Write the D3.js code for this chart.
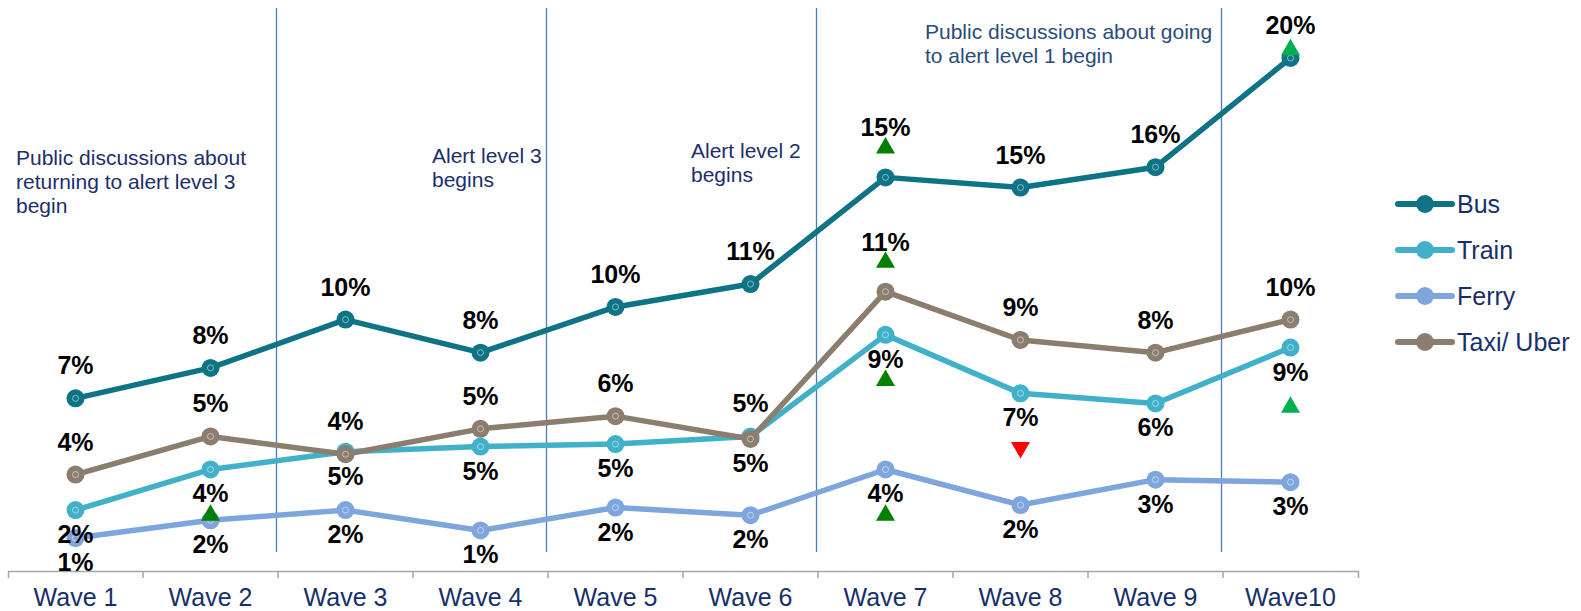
<!DOCTYPE html>
<html>
<head>
<meta charset="utf-8">
<script src="https://cdn.jsdelivr.net/npm/d3@7"></script>
<style>
  body { margin: 0; background: #fff; }
  text { font-family: "Liberation Sans", Arial, sans-serif; }
</style>
</head>
<body>
<div id="chart"></div>
<script>
var waves = ["Wave 1", "Wave 2", "Wave 3", "Wave 4", "Wave 5", "Wave 6", "Wave 7", "Wave 8", "Wave 9", "Wave10"];

// percentages
var busValues   = [6.6, 7.8, 9.7, 8.4, 10.2, 11.1, 15.3, 14.9, 15.7, 20.0];
var trainValues = [2.2, 3.8, 4.5, 4.7, 4.8, 5.1, 9.1, 6.8, 6.4, 8.6];
var ferryValues = [1.1, 1.8, 2.2, 1.4, 2.3, 2.0, 3.8, 2.4, 3.4, 3.3];
var taxiValues  = [3.6, 5.1, 4.4, 5.4, 5.9, 5.0, 10.8, 8.9, 8.4, 9.7];

var seriesNames = ["Bus", "Train", "Ferry", "Taxi/ Uber"];

// significance arrows: "base" = dark green, "prev" = light green / red
var sigMarks = [
  {series: "Train", wave: "Wave 2", dir: "up", kind: "base"},
  {series: "Bus", wave: "Wave 7", dir: "up", kind: "base"},
  {series: "Taxi/ Uber", wave: "Wave 7", dir: "up", kind: "base"},
  {series: "Train", wave: "Wave 7", dir: "up", kind: "base"},
  {series: "Ferry", wave: "Wave 7", dir: "up", kind: "base"},
  {series: "Train", wave: "Wave 8", dir: "down", kind: "prev"},
  {series: "Bus", wave: "Wave10", dir: "up", kind: "prev"},
  {series: "Train", wave: "Wave10", dir: "up", kind: "prev"}
];

var dividerAfter = ["Wave 2", "Wave 4", "Wave 6", "Wave 9"];

var notes = [
  {lines: ["Public discussions about", "returning to alert level 3", "begin"], x: 16, y: 165, color: "#1B2F6B"},
  {lines: ["Alert level 3", "begins"], x: 432, y: 163, color: "#1B2F6B"},
  {lines: ["Alert level 2", "begins"], x: 691, y: 158, color: "#1B2F6B"},
  {lines: ["Public discussions about going", "to alert level 1 begin"], x: 925, y: 39, color: "#2B4C7E"}
];

var allValues = [busValues, trainValues, ferryValues, taxiValues];
var colors = ["#0D7385", "#41B1C9", "#7FA6DC", "#8B7E6F"];
var navy = "#17306A";

var svg = d3.select("#chart")
  .append("svg")
  .attr("width", 1581)
  .attr("height", 611);

var x = d3.scaleBand().domain(waves).range([8, 1358]);
var y = d3.scaleLinear().domain([0, 20]).range([566, 58]);
var cx = function(w) { return x(w) + x.bandwidth() / 2; };

// x axis
var axisY = 571;
var axis = svg.append("g")
  .attr("transform", `translate(0, ${axisY})`)
  .call(d3.axisBottom(x).tickSizeInner(0).tickSizeOuter(7).tickPadding(17));
axis.select(".domain").attr("stroke", "#A6A6A6").attr("stroke-width", 1.5);
axis.selectAll("text")
  .attr("fill", navy)
  .style("font-size", "25px")
  .style("font-family", "'Liberation Sans', Arial, sans-serif");

svg.append("g").selectAll("line")
  .data(waves.slice(1))
  .enter()
  .append("line")
  .attr("x1", d => x(d))
  .attr("x2", d => x(d))
  .attr("y1", axisY)
  .attr("y2", axisY + 7)
  .attr("stroke", "#A6A6A6")
  .attr("stroke-width", 1.5);

// period dividers
svg.append("g").selectAll("line")
  .data(dividerAfter)
  .enter()
  .append("line")
  .attr("x1", d => x(d) + x.bandwidth() - 1.5)
  .attr("x2", d => x(d) + x.bandwidth() - 1.5)
  .attr("y1", 8)
  .attr("y2", 552)
  .attr("stroke", "#4A7EBB")
  .attr("stroke-width", 1.3);

// annotations
notes.forEach(function(n) {
  var t = svg.append("text")
    .attr("x", n.x)
    .attr("y", n.y)
    .attr("fill", n.color)
    .style("font-size", "21px");
  n.lines.forEach(function(line, i) {
    t.append("tspan")
      .attr("x", n.x)
      .attr("dy", i === 0 ? 0 : 24)
      .text(line);
  });
});

// lines + markers (Bus drawn last so it stays on top)
var line = d3.line()
  .x((d, i) => cx(waves[i]))
  .y(d => y(d));

[2, 1, 3, 0].forEach(function(s) {
  var g = svg.append("g");
  g.append("path")
    .datum(allValues[s])
    .attr("d", line)
    .attr("fill", "none")
    .attr("stroke", colors[s])
    .attr("stroke-width", 5.5)
    .attr("stroke-linejoin", "round");

  var pts = g.selectAll("g.pt")
    .data(allValues[s])
    .enter()
    .append("g")
    .attr("transform", (d, i) => `translate(${cx(waves[i])}, ${y(d)})`);
  pts.append("circle")
    .attr("r", 9)
    .attr("fill", colors[s]);
  pts.append("circle")
    .attr("r", 3)
    .attr("fill", "none")
    .attr("stroke", "#fff")
    .attr("stroke-opacity", 0.55)
    .attr("stroke-width", 0.9);
});

// which side each value label sits on
function labelSide(name, wave) {
  if (wave === "Wave 6" && name === "Train") return "above";
  if (wave === "Wave 6" && name === "Taxi/ Uber") return "below";
  return (name === "Bus" || name === "Taxi/ Uber") ? "above" : "below";
}

var sigStyle = {
  base: {up: "#008000", down: "#C00000", above: -32, below: 43, push: true},
  prev: {up: "#00B050", down: "#FF0000", above: -11, below: 57, push: false}
};

function findSig(name, wave) {
  return sigMarks.find(m => m.series === name && m.wave === wave);
}

// value labels
seriesNames.forEach(function(name, s) {
  svg.append("g").selectAll("text")
    .data(allValues[s])
    .enter()
    .append("text")
    .attr("x", (d, i) => cx(waves[i]))
    .attr("y", function(d, i) {
      var side = labelSide(name, waves[i]);
      var m = findSig(name, waves[i]);
      if (side === "above") {
        var off = (m && sigStyle[m.kind].push) ? -50 : -33;
        return y(d) + off;
      }
      return y(d) + 24;
    })
    .attr("dy", "0.36em")
    .attr("text-anchor", "middle")
    .attr("fill", "#000")
    .style("font-size", "25px")
    .style("font-weight", "bold")
    .text(d => Math.round(d) + "%");
});

// significance triangles
var tri = d3.symbol().type(d3.symbolTriangle).size(156);
svg.append("g").selectAll("path")
  .data(sigMarks)
  .enter()
  .append("path")
  .attr("d", tri)
  .attr("fill", d => sigStyle[d.kind][d.dir])
  .attr("transform", function(d) {
    var s = seriesNames.indexOf(d.series);
    var i = waves.indexOf(d.wave);
    var side = labelSide(d.series, d.wave);
    var cy = y(allValues[s][i]) + sigStyle[d.kind][side];
    if (d.dir === "up") return `translate(${cx(d.wave)}, ${cy + 2.7})`;
    return `translate(${cx(d.wave)}, ${cy - 2.7}) rotate(180)`;
  });

// legend
var legend = svg.append("g").selectAll("g")
  .data(seriesNames)
  .enter()
  .append("g")
  .attr("transform", (d, i) => `translate(0, ${204 + i * 46})`);
legend.append("line")
  .attr("x1", 1398)
  .attr("x2", 1452)
  .attr("stroke", (d, i) => colors[i])
  .attr("stroke-width", 6)
  .attr("stroke-linecap", "round");
legend.append("circle")
  .attr("cx", 1425)
  .attr("r", 9)
  .attr("fill", (d, i) => colors[i]);
legend.append("text")
  .attr("x", 1457)
  .attr("dy", "0.36em")
  .attr("fill", navy)
  .style("font-size", "25px")
  .text(d => d);
</script>
</body>
</html>
